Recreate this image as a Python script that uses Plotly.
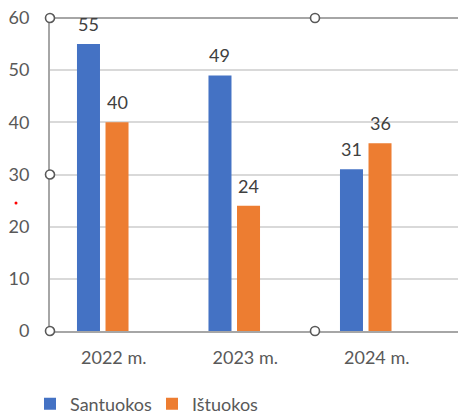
import plotly.graph_objects as go

categories = ["2022 m.", "2023 m.", "2024 m."]
santuokos = [55, 49, 31]
istuokos = [40, 24, 36]
series_names = ["Santuokos", "Ištuokos"]
y_ticks = [0, 10, 20, 30, 40, 50, 60]

BLUE = "#4472C4"
ORANGE = "#ED7D31"
FONT = "Lato"

W, H = 458, 415
ML, MR, MT, MB = 50, 0, 18, 84
plot_w = W - ML - MR
group_px = 131.5
x0 = -52.75 / group_px
x1 = x0 + plot_w / group_px

bar_w = 0.175
gap = 0.021

fig = go.Figure()
fig.add_trace(go.Bar(x=categories, y=santuokos, name=series_names[0],
                     marker=dict(color=BLUE, line=dict(width=0)),
                     width=bar_w, offset=-gap - bar_w))
fig.add_trace(go.Bar(x=categories, y=istuokos, name=series_names[1],
                     marker=dict(color=ORANGE, line=dict(width=0)),
                     width=bar_w, offset=gap))

shift = (gap + bar_w / 2) * group_px
annotations = []
for c, v in zip(categories, santuokos):
    annotations.append(dict(x=c, y=v, xref="x", yref="y", text=str(v), showarrow=False,
                            xshift=-shift, yshift=7, yanchor="bottom",
                            font=dict(family=FONT, size=18, color="#404040")))
for c, v in zip(categories, istuokos):
    annotations.append(dict(x=c, y=v, xref="x", yref="y", text=str(v), showarrow=False,
                            xshift=shift, yshift=7, yanchor="bottom",
                            font=dict(family=FONT, size=18, color="#404040")))

frame_col = "#A6A6A6"
handle_col = "#595959"
shapes = [
    dict(type="line", xref="paper", yref="paper", x0=0, x1=1.5, y0=1, y1=1,
         line=dict(color=frame_col, width=2), layer="above"),
]
# selection handles
for px, py in [(0, 1), (0, 0.5), (0, 0), ((315 - ML) / plot_w, 1), ((315 - ML) / plot_w, 0)]:
    shapes.append(dict(type="circle", xref="paper", yref="paper",
                       xsizemode="pixel", ysizemode="pixel", xanchor=px, yanchor=py,
                       x0=-4.5, x1=4.5, y0=-4.5, y1=4.5,
                       fillcolor="white", line=dict(color=handle_col, width=1.6), layer="above"))
# small red dot
shapes.append(dict(type="circle", xref="paper", yref="paper",
                   xsizemode="pixel", ysizemode="pixel",
                   xanchor=(16 - ML) / plot_w, yanchor=(H - MB - 203) / (H - MT - MB),
                   x0=-1.5, x1=1.5, y0=-1.5, y1=1.5,
                   fillcolor="red", line=dict(width=0)))

fig.update_layout(
    width=W, height=H, autosize=False,
    margin=dict(l=ML, r=MR, t=MT, b=MB, pad=0, autoexpand=False),
    paper_bgcolor="white", plot_bgcolor="white",
    font=dict(family=FONT, size=18, color="#595959"),
    barmode="group",
    showlegend=True,
    legend=dict(orientation="h", x=30 / W, xref="container", xanchor="left",
                y=(H - 404) / H, yref="container", yanchor="middle",
                entrywidth=77, entrywidthmode="pixels",
                font=dict(family=FONT, size=18, color="#595959"),
                itemclick=False, traceorder="normal"),
    xaxis=dict(type="category", range=[x0, x1], showgrid=False, showline=True,
               linecolor=frame_col, linewidth=2, ticks="", ticklabelshift=11,
               ticklabelstandoff=9, tickfont=dict(family=FONT, size=18, color="#595959"),
               zeroline=False, fixedrange=True, automargin=False),
    yaxis=dict(range=[0, 60], tickvals=y_ticks, showgrid=True, gridcolor="#D9D9D9",
               gridwidth=1.5, showline=True, linecolor=frame_col, linewidth=2,
               ticks="", ticklabelstandoff=15, zeroline=False, automargin=False,
               tickfont=dict(family=FONT, size=18, color="#595959"), fixedrange=True),
    annotations=annotations,
    shapes=shapes,
)

fig.write_html("out.html", config={"displayModeBar": False},
               post_script="document.body.style.margin='0';")
